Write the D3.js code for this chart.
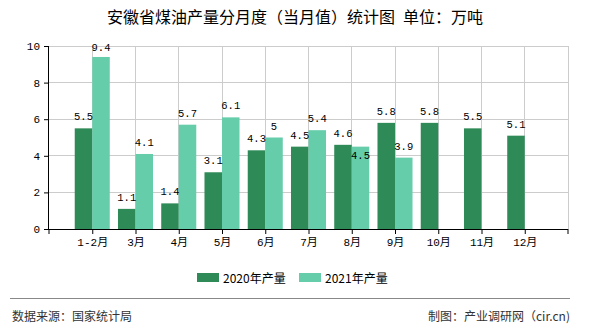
<!DOCTYPE html>
<html><head><meta charset="utf-8">
<script src="https://cdn.jsdelivr.net/npm/d3@7"></script>
<style>
html,body{margin:0;padding:0;background:#fff;}
svg{display:block;}
</style>
</head><body>
<svg id="chart" width="590" height="330"></svg>
<script>
const categories = ["1-2月","3月","4月","5月","6月","7月","8月","9月","10月","11月","12月"];
const series2020 = [5.5,1.1,1.4,3.1,4.3,4.5,4.6,5.8,5.8,5.5,5.1];
const series2021 = [9.4,4.1,5.7,6.1,5.0,5.4,4.5,3.9,null,null,null];
const seriesNames = ["2020年产量","2021年产量"];
const yTicks = [0,2,4,6,8,10];
const titleText = "安徽省煤油产量分月度（当月值）统计图\u2002单位：万吨";
const sourceText = "数据来源：国家统计局";
const creditText = "制图：产业调研网（cir.cn)";

const colors = ["#2e8b57","#66cdaa"];
const svg = d3.select("#chart");
const L = 49, R = 568, T = 46, B = 229;
const monoFont = "'Liberation Mono','Noto Sans CJK SC',monospace";
const cjkFont = "'Noto Sans CJK SC',sans-serif";

const x = d3.scalePoint().domain(categories).range([L, R]).padding(1);
const step = x.step();
const y = d3.scaleLinear().domain([0, 10]).range([B, T]);
const inner = d3.scaleBand().domain([0,1]).range([-step*0.405, step*0.405]).padding(0);

// title
svg.append("text").attr("x", 295).attr("y", 23).attr("text-anchor","middle")
  .attr("font-family", cjkFont).attr("font-size", 16).attr("fill","#000")
  .text(titleText);

// grid
const grid = svg.append("g");
grid.selectAll("line.h").data(yTicks.filter(d=>d>0)).join("line")
  .attr("x1", L).attr("x2", R).attr("y1", d=>y(d)).attr("y2", d=>y(d))
  .attr("stroke","#cccccc").attr("stroke-width",1).attr("shape-rendering","crispEdges");
const vpos = d3.range(categories.length + 2).map(k => L + k*step);
grid.selectAll("line.v").data(vpos.slice(1)).join("line")
  .attr("x1", d=>d).attr("x2", d=>d).attr("y1", T).attr("y2", B)
  .attr("stroke","#cccccc").attr("stroke-width",1).attr("shape-rendering","crispEdges");

// bars
const data = [series2020, series2021];
data.forEach((vals, si) => {
  svg.append("g").selectAll("rect").data(categories.map((c,i)=>({c, v: vals[i]})).filter(d=>d.v!=null))
    .join("rect")
    .attr("x", d => x(d.c) + inner(si))
    .attr("width", inner.bandwidth())
    .attr("y", d => y(d.v))
    .attr("height", d => B - y(d.v))
    .attr("fill", colors[si]);
});

// labels
const fmt = v => (Number.isInteger(v) ? String(v) : v.toFixed(1));
data.forEach((vals, si) => {
  const other = data[1-si];
  svg.append("g").selectAll("text").data(categories.map((c,i)=>({c, v: vals[i], o: other[i]})).filter(d=>d.v!=null))
    .join("text")
    .attr("x", d => x(d.c) + inner(si) + inner.bandwidth()/2)
    .attr("y", d => {
      const top = y(d.v);
      if (d.o != null && Math.abs(y(d.o) - top) < 10 && d.v < d.o) return top + 12;
      return Math.max(top - 8, T + 5);
    })
    .attr("text-anchor","middle")
    .attr("font-family", monoFont).attr("font-size", 10.5).attr("fill","#000")
    .text(d => fmt(d.v));
});

// y axis
const yAxis = svg.append("g").attr("transform", `translate(${L},0)`)
  .call(d3.axisLeft(y).tickValues(yTicks).tickSize(5).tickPadding(4).tickFormat(d3.format("d")));
yAxis.select(".domain").attr("stroke","#000").attr("d", `M-0.5,${T}V${B}`);
yAxis.selectAll(".tick line").attr("stroke","#000");
yAxis.selectAll("text").attr("font-family", monoFont).attr("font-size", 11).attr("fill","#000");

// x axis
const xAxis = svg.append("g").attr("transform", `translate(0,${B})`)
  .call(d3.axisBottom(x).tickSize(5).tickPadding(4));
xAxis.select(".domain").attr("stroke","#000").attr("d", `M${L},0.5H${R}`);
xAxis.selectAll(".tick line").attr("stroke","#000");
xAxis.selectAll("text").attr("font-family", monoFont).attr("font-size", 11).attr("fill","#000");
xAxis.selectAll("line.extra").data([vpos[0], vpos[vpos.length-1]]).join("line")
  .attr("x1", d=>d).attr("x2", d=>d).attr("y1",0).attr("y2",5).attr("stroke","#000");

// legend
const leg = svg.append("g");
const legX = [197, 299];
seriesNames.forEach((n, i) => {
  leg.append("rect").attr("x", legX[i]).attr("y", 273).attr("width", 22).attr("height", 9).attr("fill", colors[i]);
  leg.append("text").attr("x", legX[i] + 26).attr("y", 282.5)
    .attr("font-family", cjkFont).attr("font-size", 12).attr("fill","#000").text(n);
});

// footer
svg.append("line").attr("x1", 10).attr("x2", 570).attr("y1", 298.5).attr("y2", 298.5)
  .attr("stroke","#888").attr("stroke-width",1);
svg.append("text").attr("x", 12).attr("y", 320.5).attr("font-family", cjkFont).attr("font-size", 12)
  .attr("fill","#333").text(sourceText);
svg.append("text").attr("x", 570).attr("y", 320.5).attr("text-anchor","end").attr("font-family", cjkFont).attr("font-size", 12)
  .attr("fill","#333").text(creditText);
</script>
</body></html>
